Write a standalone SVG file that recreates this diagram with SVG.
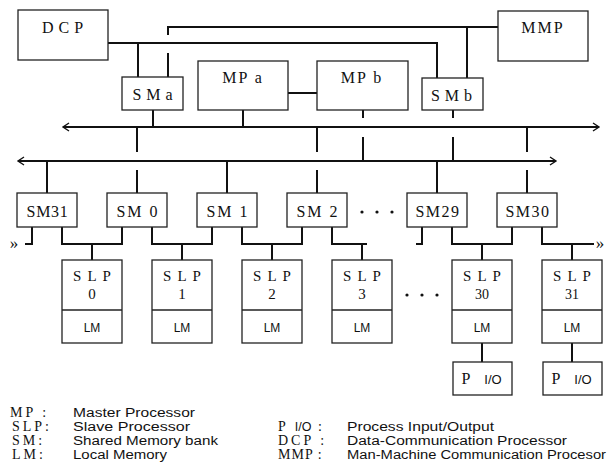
<svg xmlns="http://www.w3.org/2000/svg" width="608" height="469" viewBox="0 0 608 469">
<style>
.box{fill:#fff;stroke:#222;stroke-width:1.3}
.ln{fill:none;stroke:#111;stroke-width:2}
.ar{fill:none;stroke:#111;stroke-width:1.4}
.t{font-family:"Liberation Serif",serif;font-size:16px;fill:#111;text-anchor:middle}
.p{font-family:"Liberation Serif",serif;font-size:15px;fill:#111;text-anchor:middle}
.s{font-family:"Liberation Sans",sans-serif;font-size:12px;fill:#111;text-anchor:middle}
.lg{font-family:"Liberation Serif",serif;font-size:14px;fill:#111;letter-spacing:3px}
.ld{font-family:"Liberation Sans",sans-serif;font-size:12.5px;fill:#111}
.dot{fill:#111}
</style>
<rect width="608" height="469" fill="#fff"/>
<g id="connectors">
<path class="ln" d="M108,43 H437 V78 M138,43 V77 M168,77 V53 M168,35 V27 H498 M467,27 V78 M288,93 H317"/>
<path class="ln" d="M153,110 V127 M243,110 V127 M363,110 V118 M363,137 V161 M453,110 V118 M453,137 V161"/>
<path class="ln" d="M63,127 H599 M18,161 H556"/>
<path class="ar" d="M69,123 L63,127 L69,131 M593,123 L599,127 L593,131 M24,157 L18,161 L24,165 M550,157 L556,161 L550,165"/>
<path class="ln" d="M47,161 V193 M137,127 V152 M137,170 V193 M227,161 V193 M317,127 V152 M317,170 V193 M437,161 V193 M527,127 V152 M527,170 V193"/>
<path class="ln" d="M32,227 V244 H25 M62,227 V244 H122 V227 M92,244 V260 M152,227 V244 H212 V227 M182,244 V260 M242,227 V244 H302 V227 M272,244 V260 M332,227 V244 H367 M362,244 V260 M416,244 H422 V227 M452,227 V244 H512 V227 M482,244 V260 M542,227 V244 H594 M572,244 V260 M482,343 V362 M572,343 V362"/>
<text x="14" y="249" class="t" style="font-size:17px">»</text>
<text x="600" y="249" class="t" style="font-size:17px">»</text>
</g>
<g id="DCP"><rect class="box" x="18" y="10" width="90" height="50"/><text class="t" x="65" y="33" style="letter-spacing:5px">DCP</text></g>
<g id="MMP"><rect class="box" x="498" y="11" width="90" height="50"/><text class="t" x="543" y="33" style="letter-spacing:2px">MMP</text></g>
<g id="SMa"><rect class="box" x="122" y="77" width="61" height="33"/><text class="t" x="155" y="100" style="letter-spacing:5px">SMa</text></g>
<g id="MPa"><rect class="box" x="198" y="61" width="90" height="49"/><text class="t" x="243" y="83" style="letter-spacing:2px">MP a</text></g>
<g id="MPb"><rect class="box" x="317" y="61" width="91" height="49"/><text class="t" x="362" y="83" style="letter-spacing:2px">MP b</text></g>
<g id="SMb"><rect class="box" x="422" y="78" width="61" height="32"/><text class="t" x="454" y="101" style="letter-spacing:5px">SMb</text></g>
<g id="SM31"><rect class="box" x="17" y="193" width="60" height="34"/><text class="t" x="47.5" y="217" style="letter-spacing:0.7px">SM31</text></g>
<g id="SM0"><rect class="box" x="107" y="193" width="60" height="34"/><text class="t" x="138" y="217" style="letter-spacing:2px">SM 0</text></g>
<g id="SM1"><rect class="box" x="197" y="193" width="60" height="34"/><text class="t" x="228" y="217" style="letter-spacing:2px">SM 1</text></g>
<g id="SM2"><rect class="box" x="287" y="193" width="60" height="34"/><text class="t" x="318" y="217" style="letter-spacing:2px">SM 2</text></g>
<g id="SM29"><rect class="box" x="407" y="193" width="60" height="34"/><text class="t" x="438" y="217" style="letter-spacing:1.5px">SM29</text></g>
<g id="SM30"><rect class="box" x="497" y="193" width="60" height="34"/><text class="t" x="528" y="217" style="letter-spacing:1.5px">SM30</text></g>
<g id="dots"><circle class="dot" cx="362" cy="212" r="1.6"/><circle class="dot" cx="377" cy="212" r="1.6"/><circle class="dot" cx="392" cy="212" r="1.6"/><circle class="dot" cx="407" cy="295" r="1.6"/><circle class="dot" cx="422" cy="295" r="1.6"/><circle class="dot" cx="437" cy="295" r="1.6"/></g>
<g id="SLP0"><rect class="box" x="62" y="260" width="60" height="83"/><line class="box" x1="62" y1="310" x2="122" y2="310"/><text class="p" x="95" y="281" style="letter-spacing:6px">SLP</text><text class="p" x="92" y="299">0</text><text class="s" x="92" y="332">LM</text></g>
<g id="SLP1"><rect class="box" x="152" y="260" width="60" height="83"/><line class="box" x1="152" y1="310" x2="212" y2="310"/><text class="p" x="185" y="281" style="letter-spacing:6px">SLP</text><text class="p" x="182" y="299">1</text><text class="s" x="182" y="332">LM</text></g>
<g id="SLP2"><rect class="box" x="242" y="260" width="60" height="83"/><line class="box" x1="242" y1="310" x2="302" y2="310"/><text class="p" x="275" y="281" style="letter-spacing:6px">SLP</text><text class="p" x="272" y="299">2</text><text class="s" x="272" y="332">LM</text></g>
<g id="SLP3"><rect class="box" x="332" y="260" width="60" height="83"/><line class="box" x1="332" y1="310" x2="392" y2="310"/><text class="p" x="365" y="281" style="letter-spacing:6px">SLP</text><text class="p" x="362" y="299">3</text><text class="s" x="362" y="332">LM</text></g>
<g id="SLP30"><rect class="box" x="452" y="260" width="60" height="83"/><line class="box" x1="452" y1="310" x2="512" y2="310"/><text class="p" x="485" y="281" style="letter-spacing:6px">SLP</text><text class="p" x="482" y="299" style="font-size:14px">30</text><text class="s" x="482" y="332">LM</text></g>
<g id="SLP31"><rect class="box" x="542" y="260" width="60" height="83"/><line class="box" x1="542" y1="310" x2="602" y2="310"/><text class="p" x="575" y="281" style="letter-spacing:6px">SLP</text><text class="p" x="572" y="299" style="font-size:14px">31</text><text class="s" x="572" y="332">LM</text></g>
<g id="PIO30"><rect class="box" x="453" y="362" width="59" height="33"/><text class="t" x="466" y="384">P</text><text class="s" x="493" y="384" style="font-size:13px">I/O</text></g>
<g id="PIO31"><rect class="box" x="543" y="362" width="59" height="33"/><text class="t" x="556" y="384">P</text><text class="s" x="583" y="384" style="font-size:13px">I/O</text></g>
<g id="legend">
<text class="lg" x="10" y="417">MP :</text>
<text class="lg" x="12" y="431">SLP:</text>
<text class="lg" x="12" y="445">SM:</text>
<text class="lg" x="12" y="459">LM:</text>
<text class="ld" x="73" y="417" textLength="122" lengthAdjust="spacingAndGlyphs">Master Processor</text>
<text class="ld" x="73" y="431" textLength="117" lengthAdjust="spacingAndGlyphs">Slave Processor</text>
<text class="ld" x="73" y="445" textLength="145" lengthAdjust="spacingAndGlyphs">Shared Memory bank</text>
<text class="ld" x="73" y="459" textLength="94" lengthAdjust="spacingAndGlyphs">Local Memory</text>
<text class="lg" x="278" y="431">P <tspan style="font-family:'Liberation Sans',sans-serif;font-size:12.5px;letter-spacing:0">I/O</tspan> :</text>
<text class="lg" x="278" y="445">DCP :</text>
<text class="lg" x="278" y="459" style="letter-spacing:1px">MMP :</text>
<text class="ld" x="347" y="431" textLength="147" lengthAdjust="spacingAndGlyphs">Process Input/Output</text>
<text class="ld" x="347" y="445" textLength="220" lengthAdjust="spacingAndGlyphs">Data-Communication Processor</text>
<text class="ld" x="347" y="459" textLength="259" lengthAdjust="spacingAndGlyphs">Man-Machine Communication Procesor</text>
</g>
</svg>
